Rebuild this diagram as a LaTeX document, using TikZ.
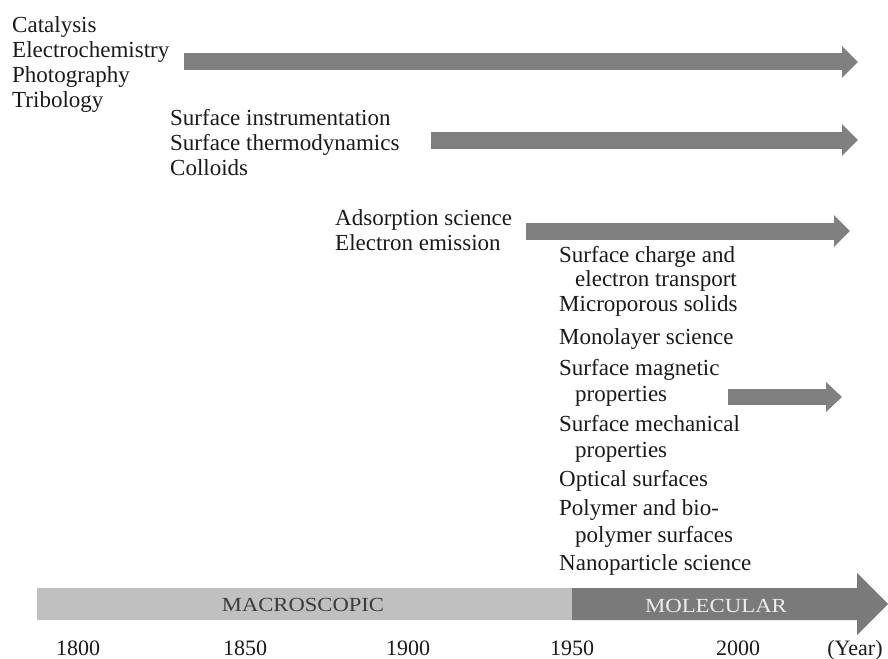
\documentclass[tikz,border=0pt]{standalone}
\usepackage{fontspec}
\usepackage{graphicx}
\setmainfont{Liberation Serif}
\usetikzlibrary{arrows.meta}
\definecolor{arr}{HTML}{808080}
\definecolor{lightbar}{HTML}{C0C0C0}
\definecolor{darkbar}{HTML}{7A7A7A}
\definecolor{txt}{HTML}{1A1A1A}
\begin{document}
\begin{tikzpicture}[x=1pt,y=-1pt,
  lbl/.style={anchor=base west, inner sep=0pt, font=\fontsize{23}{26}\selectfont, text=txt},
  yr/.style={anchor=base, inner sep=0pt, font=\fontsize{22}{26}\selectfont, text=txt},
  bartext/.style={anchor=base, inner sep=0pt, font=\fontsize{20}{24}\selectfont},
  bigarrow/.style={arr, line width=17pt, -{Triangle[length=16pt,width=31pt]}},
  smallarrow/.style={arr, line width=16pt, -{Triangle[length=16pt,width=29pt]}}]
\useasboundingbox (0,0) rectangle (888,658);
% first group
\node[lbl] (cat) at (12,33) {Catalysis};
\node[lbl] (ele) at (12,58) {Electrochemistry};
\node[lbl] (pho) at (12,83) {Photography};
\node[lbl] (tri) at (12,107) {Tribology};
\coordinate (a1s) at (184,62);
\coordinate (a1e) at (858,62);
\draw[bigarrow] (a1s) -- (a1e);
% second group
\node[lbl] (sin) at (170,125) {Surface instrumentation};
\node[lbl] (sth) at (170,150) {Surface thermodynamics};
\node[lbl] (col) at (170,175) {Colloids};
\coordinate (a2s) at (431,140);
\coordinate (a2e) at (858,140);
\draw[bigarrow] (a2s) -- (a2e);
% third group
\node[lbl] (ads) at (335,225) {Adsorption science};
\node[lbl] (eem) at (335,250) {Electron emission};
\coordinate (a3s) at (526,231);
\coordinate (a3e) at (850,231);
\draw[bigarrow] (a3s) -- (a3e);
% fourth group
\node[lbl] (r1) at (559,262) {Surface charge and};
\node[lbl] (r1b) at (575,286) {electron transport};
\node[lbl] (r2) at (559,311) {Microporous solids};
\node[lbl] (r3) at (559,344) {Monolayer science};
\node[lbl] (r4) at (559,375) {Surface magnetic};
\node[lbl] (r4b) at (575,401) {properties};
\node[lbl] (r5) at (559,431) {Surface mechanical};
\node[lbl] (r5b) at (575,457) {properties};
\node[lbl] (r6) at (559,486) {Optical surfaces};
\node[lbl] (r7) at (559,515) {Polymer and bio-};
\node[lbl] (r7b) at (575,542) {polymer surfaces};
\node[lbl] (r8) at (559,570) {Nanoparticle science};
\coordinate (a4s) at (728,397);
\coordinate (a4e) at (842,397);
\draw[smallarrow] (a4s) -- (a4e);
% time bar
\fill[lightbar] (37,588) rectangle (572,620);
\fill[darkbar] (572,588) rectangle (857,620) -- (857,573) -- (888,604) -- (857,635) -- cycle;
\node[bartext, text=txt!85] (mac) at (303,611) {\scalebox{1.13}[1]{MACROSCOPIC}};
\node[bartext, text=white!93!black] (mol) at (716,612) {\scalebox{1.14}[1]{MOLECULAR}};
% years
\node[yr] (y1800) at (78,655) {1800};
\node[yr] (y1850) at (245,655) {1850};
\node[yr] (y1900) at (408,655) {1900};
\node[yr] (y1950) at (572,655) {1950};
\node[yr] (y2000) at (738,655) {2000};
\node[yr] (year) at (855,655) {(Year)};
\end{tikzpicture}
\end{document}
